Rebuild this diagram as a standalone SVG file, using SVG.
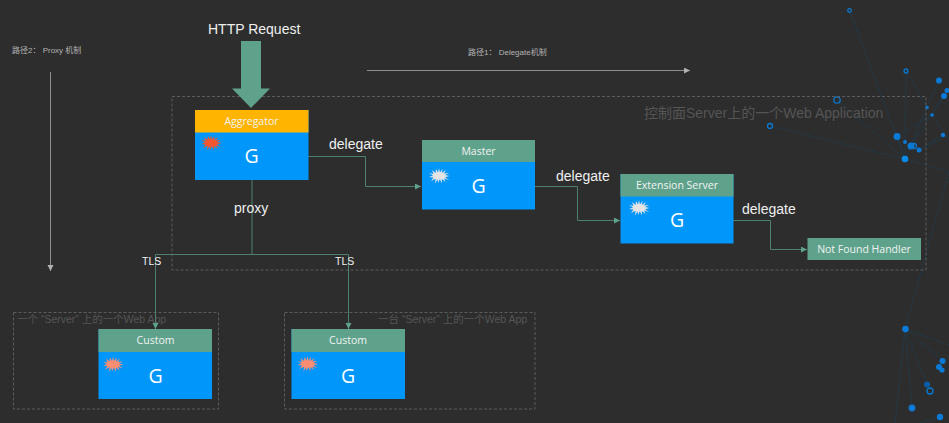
<svg xmlns="http://www.w3.org/2000/svg" width="949" height="423" viewBox="0 0 949 423">
<style>
.lbl{font-family:"Liberation Sans",sans-serif;font-size:14px;fill:#f0f0f0}
.tls{font-family:"Liberation Sans",sans-serif;font-size:10.5px;fill:#f0f0f0}
.hd{font-family:"Open Sans",sans-serif;font-size:10.5px;fill:#f2f2f2;text-anchor:middle}
.g{font-family:"Open Sans",sans-serif;font-size:19.5px;fill:#fff;text-anchor:middle}
.body{fill:#0096fa}
.head{fill:#5fa28b}
.zone{fill:none;stroke:#5c5c5c;stroke-width:1;stroke-dasharray:3 2}
.cap{font-family:"Liberation Sans","Noto Sans CJK SC",sans-serif;fill:#555}
.path{font-family:"Liberation Sans","Noto Sans CJK SC",sans-serif;font-size:8px;fill:#b4b4b4}
.conn{fill:none;stroke:#4e8070;stroke-width:1}
.guide{fill:none;stroke:#8f8f8f;stroke-width:1}
.net{fill:none;stroke:#1a4058;stroke-width:.8;stroke-dasharray:2 1}
.dot{fill:#0a7ad6}
.ring{fill:none;stroke:#0a78cf;stroke-width:1.3}
</style>
<defs>
<path id="star" d="M0,-8 1,-3.500 3.500,-7 3,-3 7,-6 5,-2.500 10,-3 6,-1 10.500,0 6,1.200 10,4 5,2.500 6.500,6 2.800,3 3,7.500 .8,3.200 -1,7 -1.500,3.200 -4,7.500 -3.500,2.800 -8,5 -5.500,1.500 -10,1 -6,-.5 -10,-3 -5.500,-2 -7,-6 -3.500,-3 -3,-7 -1,-3.500Z"/>
<marker id="tip" markerUnits="userSpaceOnUse" markerWidth="7" markerHeight="7" refX="6" refY="3" orient="auto"><path d="M0,0 6,3 0,6Z" fill="#5fa28b"/></marker>
<marker id="gtip" markerUnits="userSpaceOnUse" markerWidth="7" markerHeight="7" refX="6" refY="3" orient="auto"><path d="M0,0 6,3 0,6Z" fill="#b0b0b0"/></marker>
</defs>
<rect width="949" height="423" fill="#2d2d2d"/>

<g id="network">
<path class="net" d="M905,159 849.5,10.5M905,159 770,126M905,159 837,100M905,159 897,136M905,159 906,71M905,159 927,107 939,80M905,159 949,172M897,136 932,115 947,90M906,71 927,107M911,146 944,96M919,150 949,135M919,150 943,135M932,115 949,140M905,329 949,172M905,329 949,345M905,329 942,360M905,329 927,384M905,329 912,408M905,329 895,423M940,417 920,423"/>
<circle class="ring" cx="849.5" cy="10.5" r="1.8"/><circle class="ring" cx="906" cy="71" r="2"/><circle class="ring" cx="837" cy="100" r="3.2"/><circle class="ring" cx="770" cy="126" r="2.5"/>
<circle class="dot" cx="939" cy="80.5" r="3"/><circle class="dot" cx="947" cy="90.5" r="2.5"/><circle class="dot" cx="944" cy="96" r="3"/><circle class="dot" cx="927" cy="107.5" r="1.8"/><circle class="dot" cx="932" cy="115" r="1.8"/><circle class="dot" cx="943" cy="135" r="2.2"/><circle class="dot" cx="897" cy="136.5" r="3.5"/><circle class="dot" cx="905" cy="142" r="2"/><circle class="dot" cx="911" cy="146" r="3.5"/><circle class="ring" cx="914" cy="146" r="2.5"/><circle class="dot" cx="919" cy="150" r="2.5"/><circle cx="905" cy="159" r="3.3" fill="#0a8be8"/>
<circle class="dot" cx="905.5" cy="329" r="3.3"/><circle class="dot" cx="942.5" cy="361" r="3"/><circle class="dot" cx="939" cy="367" r="3"/><circle class="dot" cx="942" cy="370" r="2.6"/><circle cx="927" cy="384.5" r="3" fill="#0a5da8"/><circle class="ring" cx="930" cy="391" r="3"/><circle class="dot" cx="912" cy="408" r="3.4"/><circle class="dot" cx="940" cy="417" r="3.2"/>
</g>

<g id="zones">
<rect class="zone" x="172" y="96.500" width="754" height="173.500"/>
<rect class="zone" x="13.500" y="312.500" width="205" height="96.500"/>
<rect class="zone" x="284.500" y="312.500" width="250.500" height="96.500"/>
<text class="cap" x="644" y="118" font-size="14">控制面Server上的一个Web Application</text>
<text class="cap" x="17" y="323" font-size="10.500">一个 “Server” 上的一个Web App</text>
<text class="cap" x="378" y="323" font-size="10.500">一台 “Server” 上的一个Web App</text>
</g>

<g id="guides">
<path class="guide" d="M50.500,72V271" marker-end="url(#gtip)"/>
<path class="guide" d="M367,70.500H690" marker-end="url(#gtip)"/>
<text class="path" x="12" y="53">路径2： Proxy 机制</text>
<text class="path" x="468" y="55">路径1： Delegate机制</text>
</g>

<g id="connectors">
<path class="conn" d="M308,156.500H365.500V186.500H421" marker-end="url(#tip)"/>
<path class="conn" d="M535,186.500H577.500V220.500H620" marker-end="url(#tip)"/>
<path class="conn" d="M733,220.500H770.500V249.500H807" marker-end="url(#tip)"/>
<path class="conn" d="M252,180V254.500M155.500,254.500H348.500"/>
<path class="conn" d="M155.500,254.500V329" marker-end="url(#tip)"/>
<path class="conn" d="M348.500,254.500V329" marker-end="url(#tip)"/>
<path id="request-arrow" d="M241,41H261V88.500H270L251,108 232,88.500H241Z" fill="#5fa28b"/>
<text class="lbl" x="208" y="34">HTTP Request</text>
<text class="lbl" x="329" y="149">delegate</text>
<text class="lbl" x="556" y="181">delegate</text>
<text class="lbl" x="742" y="214">delegate</text>
<text class="lbl" x="234" y="213">proxy</text>
<text class="tls" x="142" y="265">TLS</text>
<text class="tls" x="335" y="265">TLS</text>
</g>

<g id="aggregator">
<rect class="body" x="195" y="110" width="113.500" height="70"/>
<rect x="195" y="110" width="113.500" height="22.500" fill="#ffb400"/>
<text class="hd" x="251.500" y="125">Aggregator</text>
<use href="#star" x="211" y="143" fill="#f4572f"/>
<text class="g" x="251.500" y="163">G</text>
</g>
<g id="master">
<rect class="body" x="422" y="140" width="113" height="69.500"/>
<rect class="head" x="422" y="140" width="113" height="22"/>
<text class="hd" x="478.500" y="155">Master</text>
<use href="#star" x="439" y="176" fill="#e4e4e4"/>
<text class="g" x="478.500" y="193">G</text>
</g>
<g id="extension-server">
<rect class="body" x="620.500" y="174" width="113" height="69.500"/>
<rect class="head" x="620.500" y="174" width="113" height="22.500"/>
<text class="hd" x="677" y="189">Extension Server</text>
<use href="#star" x="639" y="208" fill="#e4e4e4"/>
<text class="g" x="677" y="227">G</text>
</g>
<g id="not-found-handler">
<rect class="head" x="807.500" y="238" width="113.500" height="22"/>
<text class="hd" x="864" y="253">Not Found Handler</text>
</g>
<g id="custom-1">
<rect class="body" x="98.500" y="329" width="113.500" height="70"/>
<rect class="head" x="98.500" y="329" width="113.500" height="23"/>
<text class="hd" x="155.500" y="344">Custom</text>
<use href="#star" x="113" y="364.500" fill="#fb8d72"/>
<text class="g" x="155.500" y="383">G</text>
</g>
<g id="custom-2">
<rect class="body" x="291.500" y="329" width="113.500" height="70"/>
<rect class="head" x="291.500" y="329" width="113.500" height="23"/>
<text class="hd" x="348" y="344">Custom</text>
<use href="#star" x="307.500" y="364" fill="#fb8d72"/>
<text class="g" x="348" y="383">G</text>
</g>
</svg>
